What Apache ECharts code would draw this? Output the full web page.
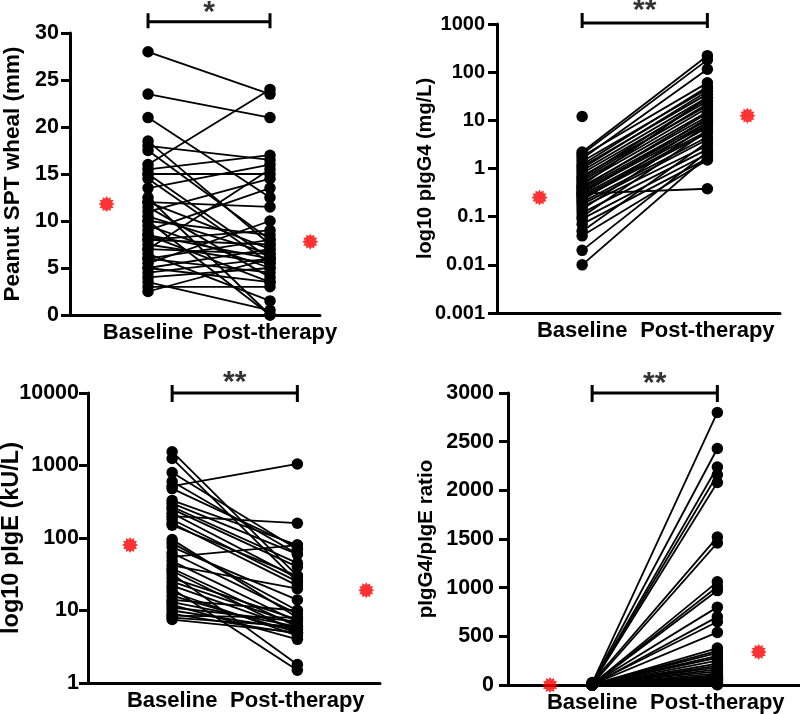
<!DOCTYPE html>
<html><head><meta charset="utf-8">
<script src="https://cdn.jsdelivr.net/npm/echarts@6/dist/echarts.min.js"></script>
<style>html,body{margin:0;padding:0;background:#fff}#c{width:800px;height:714px}</style>
</head><body><div id="c"></div>
<script>
// ---------- DATA ----------
const xLabels = ['Baseline', 'Post-therapy'];

// Panel A: Peanut SPT wheal (mm)
const sptTicks = ['0','5','10','15','20','25','30'];
const sptBaseline = [28, 23.5, 21, 18.5, 18, 17.5, 16, 15.5, 15, 15, 14.5, 13.5, 12.5, 12, 12, 11.5, 11, 10.5, 10, 10, 9.5, 9, 8.5, 8.5, 8, 8, 7.5, 7, 7, 6.5, 6, 6, 5.5, 5, 5, 4.5, 4, 3.5, 3, 2.5];
const sptPost     = [23.5, 21, 12.5, 7.5, 16.5, 8, 24, 17, 6, 15, 5.5, 16, 0, 7, 11.5, 4, 14.5, 6.5, 8.5, 0, 5, 13.5, 6, 3.5, 9, 7.5, 5.5, 15.5, 6.5, 1.5, 8, 4.5, 10, 7, 3.5, 6, 5, 0.5, 3, 6];
const sptMean = [11.8, 7.8];

// Panel B: log10 pIgG4 (mg/L)
const igg4Ticks = ['0.001','0.01','0.1','1','10','100','1000'];
const igg4Baseline = [12, 2.2, 2.0, 1.8, 1.6, 1.4, 1.2, 1.1, 1.0, 0.9, 0.8, 0.7, 0.65, 0.6, 0.55, 0.5, 0.45, 0.42, 0.4, 0.38, 0.35, 0.33, 0.3, 0.3, 0.28, 0.26, 0.24, 0.22, 0.2, 0.18, 0.16, 0.14, 0.12, 0.1, 0.09, 0.07, 0.05, 0.04, 0.02, 0.01];
const igg4Post     = [null, 220, 180, 60, 115, 45, 50, 35, 40, 30, 25, 20, 28, 22, 18, 15, 30, 12, 14, 10, 9, 8, 0.38, 11, 7, 6, 5.5, 9, 4.5, 4, 3, 8, 2.5, 6, 2, 1.6, 3.5, 1.5, 2.2, 1.8];
const igg4Mean = [0.25, 12.5];

// Panel C: log10 pIgE (kU/L)
const igeTicks = ['1','10','100','1000','10000'];
const igeBaseline = [1550, 1250, 800, 600, 520, 480, 330, 300, 270, 250, 220, 200, 180, 160, 150, 95, 85, 75, 62, 55, 48, 42, 38, 35, 32, 28, 25, 22, 20, 18, 16, 14, 13, 12, 11, 10, 9, 8.5, 8, 7.5];
const igePost     = [30, 25, 70, 60, 1050, 75, 80, 60, 45, 40, 28, 160, 25, 22, 30, 8, 10, 14, 9, 80, 7, 20, 6, 5, 1.8, 7.5, 6.5, 5.5, 1.5, 4.5, 5, 10, 6, 4, 7, 5.5, 4.8, 8, 6, 5];
const igeMean = [80, 19];

// Panel D: pIgG4/pIgE ratio
const ratioTicks = ['0','500','1000','1500','2000','2500','3000'];
const ratioBaseline = [20, 15, 12, 10, 8, 25, 5, 6, 4, 3, 10, 2, 7, 5, 3, 1, 2, 4, 6, 1, 0.5, 2, 3, 1, 8, 1, 0.5, 2, 1, 3, 0.2, 0.5, 1, 0.3, 2, 0.1, 0.5, 1, 0.2, 0.1];
const ratioPost     = [2800, 2430, 2240, 2160, 2080, 1520, 1460, 1060, 1010, 970, 800, 700, 650, 540, 380, 350, 330, 300, 280, 250, 220, 200, 180, 160, 140, 120, 100, 90, 80, 70, 60, 50, 40, 30, 25, 20, 15, 10, 5, 2];
const ratioMean = [0, 340];

const sigLabels = ['*', '**', '**', '**'];
const yTitles = ['Peanut SPT wheal (mm)', 'log10 pIgG4 (mg/L)', 'log10 pIgE (kU/L)', 'pIgG4/pIgE ratio'];

// ---------- LAYOUT / STYLE ----------
const FONT = '"Liberation Sans", Arial, Helvetica, sans-serif';
const panels = [
  {base: sptBaseline, post: sptPost, mean: sptMean, ticks: sptTicks, type: 'value', min: 0, max: 30, interval: 5,
   grid: {left: 70, top: 33, width: 250, height: 282}, xmin: 0.36, xmax: 2.41, meanX: [0.66, 2.33],
   brY: 31.2, brTop: 32.1, brBot: 30.5, sigY: 32.2, titleSize: 22.5, tickSize: 21.5, nameGap: 46, margin: 11},
  {base: igg4Baseline, post: igg4Post, mean: igg4Mean, ticks: igg4Ticks, type: 'log', min: 0.001, max: 1000, split: 6,
   grid: {left: 497, top: 24, width: 283, height: 289}, xmin: 0.32, xmax: 2.58, meanX: [0.66, 2.32],
   brY: 1050, brTop: 1690, brBot: 826, sigY: 1850, titleSize: 20, tickSize: 20, nameGap: 62, margin: 12},
  {base: igeBaseline, post: igePost, mean: igeMean, ticks: igeTicks, type: 'log', min: 1, max: 10000, split: 4,
   grid: {left: 88, top: 393, width: 292, height: 290}, xmin: 0.328, xmax: 2.66, meanX: [0.664, 2.55],
   brY: 10000, brTop: 12900, brBot: 7510, sigY: 13740, titleSize: 23.5, tickSize: 21.5, nameGap: 64, margin: 9},
  {base: ratioBaseline, post: ratioPost, mean: ratioMean, ticks: ratioTicks, type: 'value', min: 0, max: 3000, interval: 500,
   grid: {left: 508, top: 393, width: 292, height: 292}, xmin: 0.328, xmax: 2.66, meanX: [0.664, 2.33],
   brY: 3000, brTop: 3082, brBot: 2907, sigY: 3092, titleSize: 20.5, tickSize: 21.5, nameGap: 71, margin: 14}
];

// starburst marker path
let sp = '';
for (let i = 0; i < 24; i++) {
  const r = (i % 2) ? 0.72 : 1, a = i * Math.PI / 12;
  sp += (i ? 'L' : 'M') + (50 + 50 * r * Math.cos(a)).toFixed(2) + ' ' + (50 + 50 * r * Math.sin(a)).toFixed(2) + ' ';
}
const STAR = 'path://' + sp + 'Z';

const grids = [], xAxes = [], yAxes = [], series = [];
panels.forEach((p, k) => {
  grids.push(Object.assign({outerBoundsMode: 'none', containLabel: false}, p.grid));
  xAxes.push({
    type: 'value', gridIndex: k, min: p.xmin, max: p.xmax,
    axisLine: {show: true, onZero: false, lineStyle: {color: '#000', width: 3}},
    axisTick: {show: false}, splitLine: {show: false},
    axisLabel: {customValues: [1, 2], formatter: v => xLabels[Math.round(v) - 1] || '',
      color: '#000', fontFamily: FONT, fontWeight: 'bold', fontSize: 22, margin: 7}
  });
  const y = {
    type: p.type, gridIndex: k, min: p.min, max: p.max,
    name: yTitles[k], nameLocation: 'middle', nameGap: p.nameGap, nameMoveOverlap: false,
    nameTextStyle: {color: '#000', fontFamily: FONT, fontWeight: 'bold', fontSize: p.titleSize},
    axisLine: {show: true, onZero: false, lineStyle: {color: '#000', width: 3}},
    axisTick: {show: true, length: 9, lineStyle: {color: '#000', width: 3}},
    splitLine: {show: false},
    axisLabel: {color: '#000', fontFamily: FONT, fontWeight: 'bold', fontSize: p.tickSize, margin: p.margin,
      formatter: p.type === 'log'
        ? (v => p.ticks[Math.round(Math.log10(v) - Math.log10(p.min))])
        : (v => p.ticks[Math.round((v - p.min) / p.interval)])}
  };
  if (p.type === 'log') { y.logBase = 10; y.splitNumber = p.split; } else { y.interval = p.interval; }
  yAxes.push(y);

  p.base.forEach((b, i) => {
    const d = [[1, b]];
    if (p.post[i] != null) d.push([2, p.post[i]]);
    series.push({
      type: 'line', xAxisIndex: k, yAxisIndex: k, data: d, silent: true,
      symbol: 'circle', symbolSize: 11.5, showSymbol: true,
      itemStyle: {color: '#000'}, lineStyle: {color: '#000', width: 1.8}, z: 3
    });
  });
  // group mean markers
  series.push({
    type: 'scatter', xAxisIndex: k, yAxisIndex: k, silent: true, clip: false,
    data: [[p.meanX[0], p.mean[0]], [p.meanX[1], p.mean[1]]],
    symbol: STAR, symbolSize: 16, itemStyle: {color: '#ff0000'}, z: 6
  });
  // significance bracket
  series.push({
    type: 'line', xAxisIndex: k, yAxisIndex: k, silent: true, clip: false, symbol: 'none',
    data: [[1, p.brTop], [1, p.brBot], [1, p.brY], [2, p.brY], [2, p.brTop], [2, p.brBot]],
    lineStyle: {color: '#000', width: 3}, z: 4
  });
  series.push({
    type: 'scatter', xAxisIndex: k, yAxisIndex: k, silent: true, clip: false,
    data: [[1.5, p.sigY]], symbolSize: 1, itemStyle: {color: 'rgba(0,0,0,0)'},
    label: {show: true, position: 'inside', formatter: sigLabels[k], color: '#000',
      fontFamily: FONT, fontWeight: 'bold', fontSize: 30}, z: 5
  });
});

const chart = echarts.init(document.getElementById('c'), null, {renderer: 'canvas'});
chart.setOption({animation: false, backgroundColor: '#fff', grid: grids, xAxis: xAxes, yAxis: yAxes, series: series});
</script></body></html>
